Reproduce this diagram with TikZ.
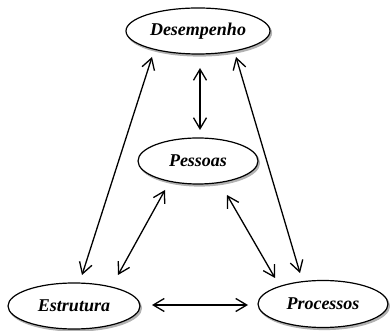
\documentclass[tikz,border=0pt]{standalone}
\usepackage{fontspec}
\setmainfont{Liberation Serif}
\usetikzlibrary{shapes.geometric,arrows.meta,shadows,calc}
\begin{document}
\begin{tikzpicture}[x=1pt,y=1pt,
  oval/.style={ellipse,draw=black,line width=1.2pt,fill=white,inner sep=0pt,
    font=\fontsize{18}{21}\selectfont\bfseries\itshape,
    copy shadow={shadow xshift=1.5pt,shadow yshift=-2pt,fill=gray!60,draw=gray!60}},
  link/.style={line width=1.3pt,{Straight Barb[length=11pt,width=13pt,line width=1.3pt]}-{Straight Barb[length=11pt,width=13pt,line width=1.3pt]}}]
\useasboundingbox (0,0) rectangle (390,331);
\node[oval,minimum width=144pt,minimum height=46pt] (d) at (198,300) {Desempenho};
\node[oval,minimum width=120pt,minimum height=46pt] (p) at (198,170) {Pessoas};
\node[oval,minimum width=132pt,minimum height=46pt] (e) at (74,25) {Estrutura};
\node[oval,minimum width=130pt,minimum height=47pt] (r) at (323,27) {Processos};
\draw[link] ($(d.center)+(2,-37)$) -- ($(p.center)+(2,31)$);
\draw[link] ($(d.center)+(-46,-26)$) -- ($(e.center)+(8,31)$);
\draw[link] ($(d.center)+(38,-26)$) -- ($(r.center)+(-23,31)$);
\draw[link] ($(p.center)+(-33,-29)$) -- ($(e.center)+(44,31)$);
\draw[link] ($(p.center)+(29,-34)$) -- ($(r.center)+(-48,26)$);
\draw[link] ($(e.center)+(78,1)$) -- ($(r.center)+(-75,-1)$);
\end{tikzpicture}
\end{document}
